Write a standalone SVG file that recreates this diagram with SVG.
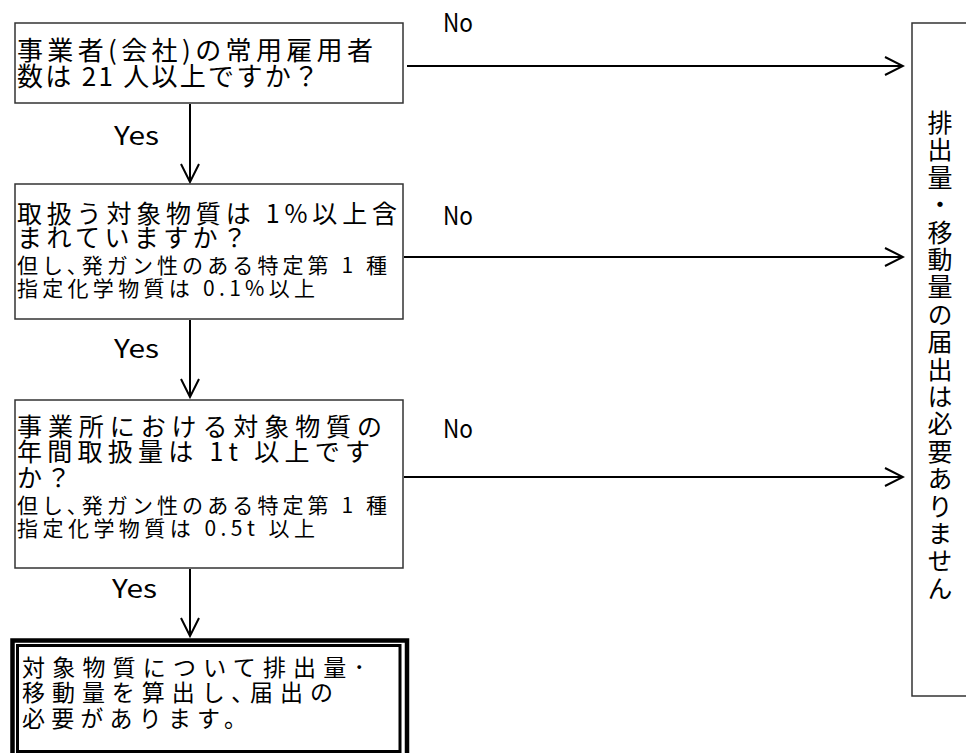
<svg xmlns="http://www.w3.org/2000/svg" width="966" height="753" viewBox="0 0 966 753">
<style>
.box{fill:#fff;stroke:#333;stroke-width:1.5}
.t{font-family:"Noto Sans CJK JP","Noto Sans",sans-serif;fill:#000}
.big{font-size:25px}
.sm{font-size:21px}
.lbl{font-family:"Noto Sans CJK JP","Noto Sans",sans-serif;font-size:25px;fill:#000}
.ln{stroke:#000;stroke-width:2;fill:none}
</style>
<defs>
<marker id="ah" markerUnits="userSpaceOnUse" markerWidth="22" markerHeight="22" viewBox="-20 -11 22 22" refX="0" refY="0" orient="auto">
<path d="M-18,-9 L0,0 L-18,9" fill="none" stroke="#000" stroke-width="2"/>
</marker>
</defs>
<rect width="966" height="753" fill="#fff"/>
<g id="connectors">
<line class="ln" x1="407" y1="66" x2="903" y2="66" marker-end="url(#ah)"/>
<line class="ln" x1="404" y1="257" x2="903" y2="257" marker-end="url(#ah)"/>
<line class="ln" x1="404" y1="477" x2="903" y2="477" marker-end="url(#ah)"/>
<line class="ln" x1="190" y1="104" x2="190" y2="182" marker-end="url(#ah)"/>
<line class="ln" x1="190" y1="320" x2="190" y2="397" marker-end="url(#ah)"/>
<line class="ln" x1="190" y1="569" x2="190" y2="636" marker-end="url(#ah)"/>
<text class="lbl" x="443" y="32" textLength="30" lengthAdjust="spacingAndGlyphs">No</text>
<text class="lbl" x="443" y="225" textLength="30" lengthAdjust="spacingAndGlyphs">No</text>
<text class="lbl" x="443" y="438" textLength="30" lengthAdjust="spacingAndGlyphs">No</text>
<text class="lbl" x="114" y="145" textLength="45" lengthAdjust="spacingAndGlyphs">Yes</text>
<text class="lbl" x="114" y="358" textLength="45" lengthAdjust="spacingAndGlyphs">Yes</text>
<text class="lbl" x="112" y="598" textLength="45" lengthAdjust="spacingAndGlyphs">Yes</text>
</g>
<g id="q1">
<rect class="box" x="15" y="23" width="388" height="80"/>
<text class="t" style="font-size:26px" x="17" y="60" textLength="356" lengthAdjust="spacing">事業者(会社)の常用雇用者</text>
<text class="t" style="font-size:26px" x="17" y="86" textLength="302" lengthAdjust="spacing">数は 21 人以上ですか？</text>
</g>
<g id="q2">
<rect class="box" x="15" y="184" width="388" height="135"/>
<text class="t big" x="17" y="223" textLength="380" lengthAdjust="spacing">取扱う対象物質は 1%以上含</text>
<text class="t big" x="17" y="247" textLength="230" lengthAdjust="spacing">まれていますか？</text>
<text class="t sm" x="17" y="273" textLength="370" lengthAdjust="spacing">但し､発ガン性のある特定第 1 種</text>
<text class="t sm" x="17" y="296" textLength="298" lengthAdjust="spacing">指定化学物質は 0.1%以上</text>
</g>
<g id="q3">
<rect class="box" x="15" y="400" width="388" height="168"/>
<text class="t big" x="17" y="436" textLength="365" lengthAdjust="spacing">事業所における対象物質の</text>
<text class="t big" x="17" y="461" textLength="353" lengthAdjust="spacing">年間取扱量は 1t 以上です</text>
<text class="t big" x="17" y="487" style="letter-spacing:4px">か？</text>
<text class="t sm" x="17" y="513" textLength="370" lengthAdjust="spacing">但し､発ガン性のある特定第 1 種</text>
<text class="t sm" x="17" y="536" textLength="298" lengthAdjust="spacing">指定化学物質は 0.5t 以上</text>
</g>
<g id="result">
<rect x="12.5" y="640.5" width="394.5" height="120" fill="#fff" stroke="#000" stroke-width="4.5"/>
<rect x="17.5" y="645.5" width="382.5" height="106" fill="none" stroke="#000" stroke-width="3"/>
<text class="t" style="font-size:23px" x="22" y="676" textLength="343" lengthAdjust="spacing">対象物質について排出量･</text>
<text class="t" style="font-size:23px" x="22" y="701" textLength="311" lengthAdjust="spacing">移動量を算出し､届出の</text>
<text class="t" style="font-size:23px" x="22" y="727" textLength="225" lengthAdjust="spacing">必要があります。</text>
</g>
<g id="no-report">
<rect class="box" x="912" y="23" width="80" height="673"/>
<text class="t" style="font-size:25px;writing-mode:vertical-rl;letter-spacing:2.4px" x="940" y="110">排出量・移動量の届出は必要ありません</text>
</g>
</svg>
